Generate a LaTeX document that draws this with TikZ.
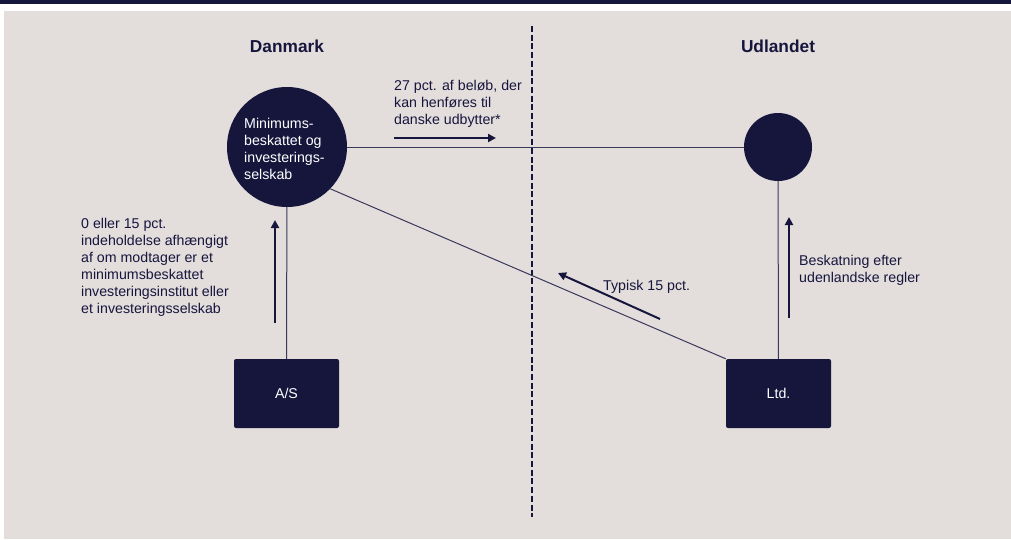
\documentclass[tikz,border=0pt]{standalone}
\usepackage{fontspec}
\setmainfont{Liberation Sans}
\usetikzlibrary{arrows.meta}
\definecolor{navy}{HTML}{16163D}
\definecolor{bg}{HTML}{E3DDDC}
\begin{document}
\begin{tikzpicture}[x=1pt,y=-1pt,
  conn/.style={draw=navy!85, line width=1pt},
  flow/.style={draw=navy, line width=2pt, -{Triangle[length=8pt,width=8pt]}},
  entity/.style={fill=navy, rounded corners=2pt, minimum width=105pt, minimum height=69pt, inner sep=0pt, text=white, font=\fontsize{14.2}{17}\selectfont},
  lbl/.style={anchor=west, align=left, inner sep=0pt, text=navy, font=\fontsize{14.2}{17}\selectfont},
  head/.style={inner sep=0pt, text=navy, font=\fontsize{17.3}{20}\selectfont\bfseries}]
\useasboundingbox (0,0) rectangle (1011,539);
\fill[white] (0,0) rectangle (1011,539);
\fill[navy] (0,0) rectangle (1011,3.5);
\fill[bg] (4,11) rectangle (1011,539);

% divider
\coordinate (dtop) at (532,26);
\coordinate (dbot) at (532,517);
\draw[navy, line width=2pt, dash pattern=on 6pt off 2.7pt] (dtop) -- (dbot);

% headings
\node[head] (dk) at (287,46) {Danmark};
\node[head] (ud) at (778,46) {Udlandet};

% entities
\node[circle, fill=navy, minimum size=120pt, inner sep=0pt] (big) at (287,147) {};
\node[circle, fill=navy, minimum size=68pt, inner sep=0pt] (small) at (778,147) {};
\node[entity] (as) at (286.5,393.5) {A/S};
\node[entity] (ltd) at (778.5,393.5) {Ltd.};

% connectors
\draw[conn] (big) -- (small);
\draw[conn] (big) -- (as);
\draw[conn] (small) -- (ltd);
\draw[conn] (big.-44) -- (ltd.north west);

\node[lbl, text=white] (bigtxt) at (244,148.5) {Minimums-\\beskattet og\\investerings-\\selskab};

% flow arrows
\coordinate (a1s) at (394,138); \coordinate (a1e) at (496,138);
\coordinate (a2s) at (275,323); \coordinate (a2e) at (275,220);
\coordinate (a3s) at (660,319); \coordinate (a3e) at (558,273);
\coordinate (a4s) at (789,318); \coordinate (a4e) at (789,217);
\draw[flow] (a1s) -- (a1e);
\draw[flow] (a2s) -- (a2e);
\draw[flow] (a3s) -- (a3e);
\draw[flow] (a4s) -- (a4e);

% labels
\node[lbl] (t1) at (394,104) {27 pct. af beløb, der\\kan henføres til\\danske udbytter*};
\node[lbl] (t2) at (81,267.5) {0 eller 15 pct.\\indeholdelse afhængigt\\af om modtager er et\\minimumsbeskattet\\investeringsinstitut eller\\et investeringsselskab};
\node[lbl] (t3) at (603,287) {Typisk 15 pct.};
\node[lbl] (t4) at (799,270.5) {Beskatning efter\\udenlandske regler};
\end{tikzpicture}
\end{document}
